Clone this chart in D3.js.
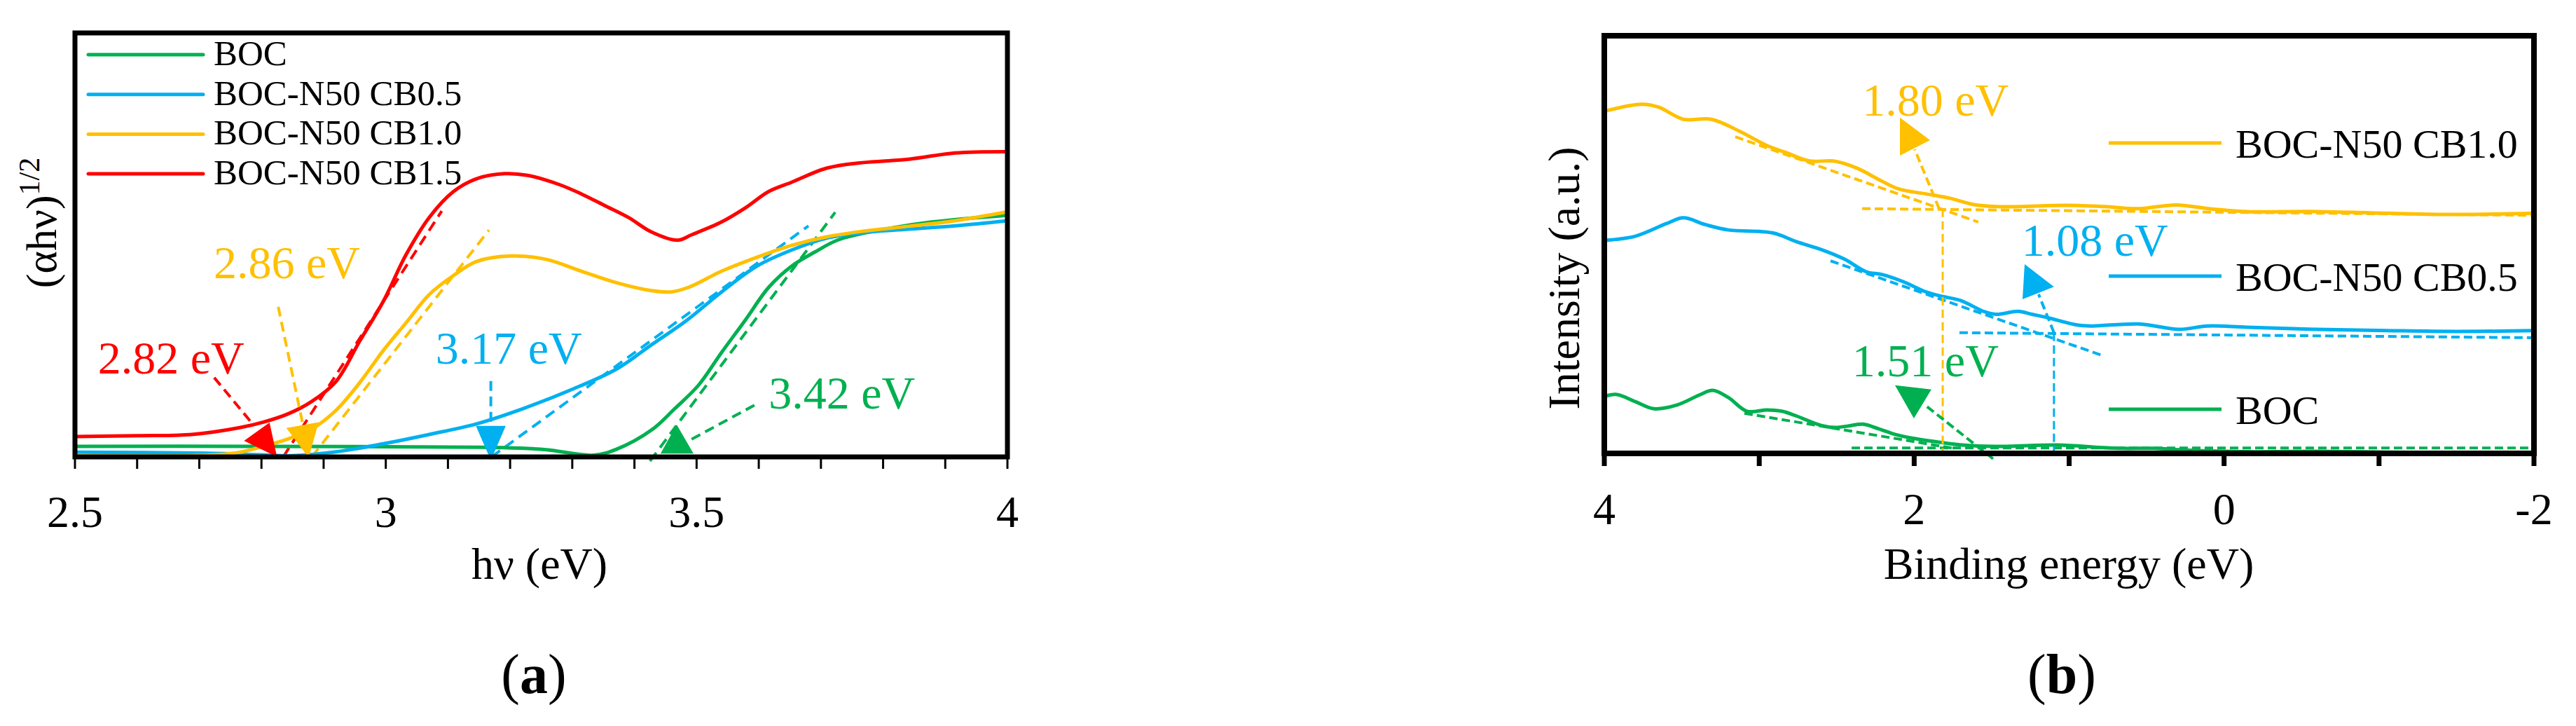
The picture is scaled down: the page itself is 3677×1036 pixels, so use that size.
<!DOCTYPE html>
<html><head><meta charset="utf-8">
<script src="https://cdn.jsdelivr.net/npm/d3@7"></script>
<style>body{margin:0;background:#fff}svg{display:block}text{font-family:"Liberation Serif","Times New Roman",serif}</style>
</head><body>
<svg id="c" width="3677" height="1036"></svg>
<script>
// ---------- DATA: panel (a) Tauc plot ----------
const aSeries = ["BOC","BOC-N50 CB0.5","BOC-N50 CB1.0","BOC-N50 CB1.5"];
const aColors = ["#00b050","#00b0f0","#ffc000","#ff0000"];
const aBOC_x = [2.5,2.8,3.0,3.189,3.258,3.334,3.371,3.428,3.465,3.503,3.540,3.578,3.616,3.653,3.690,3.728,3.803,3.878,4.0];
const aBOC_y = [0.025,0.025,0.024,0.022,0.017,0.004,0.018,0.064,0.114,0.169,0.246,0.322,0.400,0.450,0.483,0.512,0.537,0.554,0.570];
const aCB05_x = [2.5,2.7,2.8,2.85,2.92,2.996,3.070,3.146,3.221,3.296,3.371,3.428,3.484,3.540,3.597,3.653,3.709,3.766,3.841,3.916,4.0];
const aCB05_y = [0.011,0.009,0.005,0.003,0.012,0.031,0.053,0.078,0.114,0.157,0.207,0.265,0.322,0.389,0.450,0.488,0.516,0.529,0.537,0.545,0.557];
const aCB10_x = [2.5,2.6,2.69,2.726,2.765,2.803,2.842,2.880,2.920,2.958,2.996,3.033,3.070,3.109,3.146,3.202,3.258,3.315,3.371,3.428,3.458,3.487,3.540,3.597,3.653,3.709,3.766,3.841,3.916,4.0];
const aCB10_y = [0.003,0.002,0.003,0.005,0.011,0.025,0.042,0.065,0.110,0.175,0.251,0.317,0.383,0.428,0.461,0.474,0.466,0.438,0.411,0.392,0.389,0.400,0.438,0.471,0.499,0.519,0.532,0.544,0.557,0.578];
const aCB15_x = [2.5,2.6,2.688,2.765,2.803,2.842,2.880,2.920,2.958,2.996,3.033,3.070,3.109,3.146,3.191,3.228,3.278,3.315,3.352,3.390,3.428,3.469,3.492,3.540,3.578,3.616,3.653,3.709,3.766,3.841,3.916,4.0];
const aCB15_y = [0.048,0.050,0.053,0.069,0.082,0.101,0.130,0.178,0.273,0.367,0.478,0.565,0.626,0.656,0.668,0.664,0.643,0.620,0.593,0.565,0.530,0.511,0.524,0.554,0.587,0.626,0.648,0.681,0.694,0.702,0.717,0.720];
const aTickLabels = ["2.5","3","3.5","4"];
const aGaps = ["3.42 eV","3.17 eV","2.86 eV","2.82 eV"];
// tangent lines [x1,y1,x2,y2] per series (BOC, CB0.5, CB1.0, CB1.5)
const aTangents = [[3.425,-0.01,3.723,0.577],[3.17,0.0,3.68,0.545],[2.881,0,3.166,0.535],[2.835,0,3.09,0.58]];
// arrow shafts and heads (data coords)
const aShafts = [[3.593,0.122,3.490,0.040],[3.169,0.179,3.169,0.073],[2.827,0.354,2.866,0.081],[2.724,0.187,2.784,0.081]];
const aHeads = [[[3.442,0.008],[3.495,0.008],[3.468,0.076]],[[3.145,0.073],[3.193,0.073],[3.169,-0.008]],[[2.840,0.068],[2.892,0.082],[2.876,-0.002]],[[2.772,0.038],[2.813,0.081],[2.825,0.0]]];
const aLabelPos = [[3.616,0.114],[3.080,0.220],[2.723,0.421],[2.537,0.197]];

// ---------- DATA: panel (b) VB-XPS ----------
const bSeries = ["BOC","BOC-N50 CB0.5","BOC-N50 CB1.0"];
const bColors = ["#00b050","#00b0f0","#ffc000"];
const bBOC_x = [4.0,3.92,3.80,3.68,3.53,3.38,3.30,3.20,3.08,2.95,2.855,2.77,2.60,2.51,2.42,2.33,2.23,2.12,2.02,1.84,1.69,1.54,1.39,1.075,0.79,0.65,0.45,0.25,-0.15,-0.6,-1.05,-1.5,-2.0];
const bBOC_y = [0.136,0.141,0.124,0.107,0.116,0.141,0.151,0.134,0.101,0.104,0.101,0.091,0.067,0.062,0.066,0.070,0.059,0.045,0.037,0.027,0.020,0.017,0.017,0.020,0.014,0.012,0.012,0.008,0.004,0.005,0.003,0.002,0.002];
const bCB05_x = [4.0,3.8,3.6,3.49,3.35,3.2,2.915,2.76,2.6,2.45,2.31,2.205,2.07,1.92,1.82,1.70,1.545,1.47,1.33,1.24,1.14,0.94,0.85,0.55,0.29,0.11,-0.15,-0.6,-1.05,-1.5,-2.0];
const bCB05_y = [0.51,0.52,0.55,0.564,0.548,0.535,0.528,0.507,0.488,0.465,0.435,0.428,0.411,0.386,0.376,0.366,0.339,0.333,0.340,0.333,0.325,0.307,0.305,0.310,0.297,0.305,0.302,0.297,0.294,0.292,0.294];
const bCB10_x = [4.0,3.76,3.65,3.49,3.31,3.13,2.95,2.825,2.675,2.52,2.37,2.22,2.10,1.92,1.77,1.62,1.47,1.32,1.02,0.77,0.55,0.31,0.1,-0.15,-0.6,-1.05,-1.5,-2.0];
const bCB10_y = [0.819,0.836,0.829,0.80,0.80,0.772,0.737,0.720,0.70,0.70,0.683,0.654,0.633,0.621,0.611,0.596,0.591,0.591,0.594,0.591,0.586,0.595,0.586,0.579,0.579,0.575,0.572,0.575];
const bTickLabels = ["4","2","0","-2"];
const bGaps = ["1.51 eV","1.08 eV","1.80 eV"];
const bTangents = [[3.096,0.096,1.74,0.012],[2.540,0.461,0.790,0.235],[3.155,0.758,1.586,0.554]];
const bBaselines = [[2.404,0.013,-2.0,0.013],[1.708,0.289,-2.0,0.277],[2.336,0.586,-2.0,0.570]];
const bVerticals = [null,[1.098,0.289,1.098,0.003],[1.816,0.586,1.816,-0.005]];
const bShafts = [[1.491,-0.013,1.934,0.117],[1.098,0.289,1.197,0.381],[1.839,0.586,1.997,0.728]];
const bHeads = [[[2.124,0.163],[1.889,0.153],[2.002,0.084]],[[1.287,0.453],[1.098,0.399],[1.301,0.369]],[[2.092,0.804],[1.898,0.75],[2.092,0.713]]];
const bLabelPos = [[2.40,0.185],[1.306,0.473],[2.335,0.808]];

// ---------- DRAW ----------
const svg = d3.select("#c");
const zip = (xs, ys) => xs.map((x,i)=>[x, ys[i]]);

function frame(g, x, y, sw){
  const [x0,x1] = x.range(), [y0,y1] = y.range();
  g.append("rect").attr("x",Math.min(x0,x1)).attr("y",y1).attr("width",Math.abs(x1-x0)).attr("height",y0-y1)
   .attr("fill","none").attr("stroke","#000").attr("stroke-width",sw);
}

// Panel a
const ax = d3.scaleLinear().domain([2.5,4]).range([107,1438]);
const ay = d3.scaleLinear().domain([0,1]).range([652,47]);
const ga = svg.append("g");
const lineA = d3.line().x(d=>ax(d[0])).y(d=>ay(d[1])).curve(d3.curveCatmullRom.alpha(0.5));
const aData = [zip(aBOC_x,aBOC_y), zip(aCB05_x,aCB05_y), zip(aCB10_x,aCB10_y), zip(aCB15_x,aCB15_y)];
aTangents.forEach((t,i)=>{
  ga.append("line").attr("x1",ax(t[0])).attr("y1",ay(t[1])).attr("x2",ax(t[2])).attr("y2",ay(t[3]))
    .attr("stroke",aColors[i]).attr("stroke-width",4).attr("stroke-dasharray","15,9");
});
aData.forEach((d,i)=>{
  ga.append("path").datum(d).attr("d",lineA).attr("fill","none").attr("stroke",aColors[i]).attr("stroke-width",5);
});
aShafts.forEach((s,i)=>{
  ga.append("line").attr("x1",ax(s[0])).attr("y1",ay(s[1])).attr("x2",ax(s[2])).attr("y2",ay(s[3]))
    .attr("stroke",aColors[i]).attr("stroke-width",4).attr("stroke-dasharray","14,8");
});
aHeads.forEach((h,i)=>{
  ga.append("polygon").attr("points",h.map(p=>ax(p[0])+","+ay(p[1])).join(" ")).attr("fill",aColors[i]);
});
aGaps.forEach((t,i)=>{
  ga.append("text").attr("x",ax(aLabelPos[i][0])).attr("y",ay(aLabelPos[i][1])).attr("font-size",66)
    .attr("fill",aColors[i]).text(t);
});
frame(ga, ax, ay, 7);
const aTicks = d3.range(0,16).map(i=>2.5+i*0.1);
ga.selectAll(".tk").data(aTicks).enter().append("line")
  .attr("x1",d=>ax(d)).attr("x2",d=>ax(d)).attr("y1",ay(0)).attr("y2",ay(0)+17)
  .attr("stroke","#000").attr("stroke-width",3);
ga.selectAll(".tl").data(aTickLabels).enter().append("text")
  .attr("x",d=>ax(+d)).attr("y",752).attr("text-anchor","middle").attr("font-size",64).text(d=>d);
ga.append("text").attr("x",770).attr("y",826).attr("text-anchor","middle").attr("font-size",64).text("hν (eV)");
const yl = ga.append("text").attr("transform","translate(80,318) rotate(-90)").attr("text-anchor","middle").attr("font-size",62);
yl.append("tspan").text("(αhν)");
yl.append("tspan").attr("dy",-24).attr("font-size",42).text("1/2");
aSeries.forEach((s,i)=>{
  const yy = 78 + i*56.7;
  ga.append("line").attr("x1",126).attr("x2",290).attr("y1",yy).attr("y2",yy).attr("stroke",aColors[i]).attr("stroke-width",5).attr("stroke-linecap","round");
  ga.append("text").attr("x",305).attr("y",yy+15).attr("font-size",51).text(s);
});
const ta = ga.append("text").attr("x",762).attr("y",989).attr("text-anchor","middle").attr("font-size",80);
ta.append("tspan").text("(");
ta.append("tspan").attr("font-weight","bold").text("a");
ta.append("tspan").text(")");

// Panel b
const bx = d3.scaleLinear().domain([4,-2]).range([2290,3617]);
const by = d3.scaleLinear().domain([0,1]).range([647,51]);
const gb = svg.append("g");
const lineB = d3.line().x(d=>bx(d[0])).y(d=>by(d[1])).curve(d3.curveCatmullRom.alpha(0.5));
const bData = [zip(bBOC_x,bBOC_y), zip(bCB05_x,bCB05_y), zip(bCB10_x,bCB10_y)];
const seg = (g, s, col) => g.append("line").attr("x1",bx(s[0])).attr("y1",by(s[1])).attr("x2",bx(s[2])).attr("y2",by(s[3]))
    .attr("stroke",col).attr("stroke-width",4).attr("stroke-dasharray","12,6");
bData.forEach((d,i)=>{
  gb.append("path").datum(d).attr("d",lineB).attr("fill","none").attr("stroke",bColors[i]).attr("stroke-width",5);
});
bTangents.forEach((t,i)=>seg(gb,t,bColors[i]));
bBaselines.forEach((t,i)=>seg(gb,t,bColors[i]));
bVerticals.forEach((t,i)=>{ if(t) seg(gb,t,bColors[i]).attr("stroke-width",3); });
bShafts.forEach((t,i)=>seg(gb,t,bColors[i]));
bHeads.forEach((h,i)=>{
  gb.append("polygon").attr("points",h.map(p=>bx(p[0])+","+by(p[1])).join(" ")).attr("fill",bColors[i]);
});
bGaps.forEach((t,i)=>{
  gb.append("text").attr("x",bx(bLabelPos[i][0])).attr("y",by(bLabelPos[i][1])).attr("font-size",66)
    .attr("fill",bColors[i]).text(t);
});
frame(gb, bx, by, 8);
const bTicks = d3.range(4,-2.5,-1);
gb.selectAll(".tk").data(bTicks).enter().append("line")
  .attr("x1",d=>bx(d)).attr("x2",d=>bx(d)).attr("y1",by(0)).attr("y2",by(0)+18)
  .attr("stroke","#000").attr("stroke-width",7);
gb.selectAll(".tl").data(bTickLabels).enter().append("text")
  .attr("x",d=>bx(+d)).attr("y",748).attr("text-anchor","middle").attr("font-size",64).text(d=>d);
gb.append("text").attr("x",2953).attr("y",826).attr("text-anchor","middle").attr("font-size",64).text("Binding energy (eV)");
gb.append("text").attr("transform","translate(2254,397) rotate(-90)").attr("text-anchor","middle").attr("font-size",64).text("Intensity (a.u.)");
[2,1,0].forEach((si,k)=>{
  const yy = 204 + k*190;
  gb.append("line").attr("x1",3010).attr("x2",3171).attr("y1",yy).attr("y2",yy).attr("stroke",bColors[si]).attr("stroke-width",5);
  gb.append("text").attr("x",3191).attr("y",yy+21).attr("font-size",58).text(bSeries[si]);
});
const tb = gb.append("text").attr("x",2943).attr("y",989).attr("text-anchor","middle").attr("font-size",80);
tb.append("tspan").text("(");
tb.append("tspan").attr("font-weight","bold").text("b");
tb.append("tspan").text(")");
</script>
</body></html>
